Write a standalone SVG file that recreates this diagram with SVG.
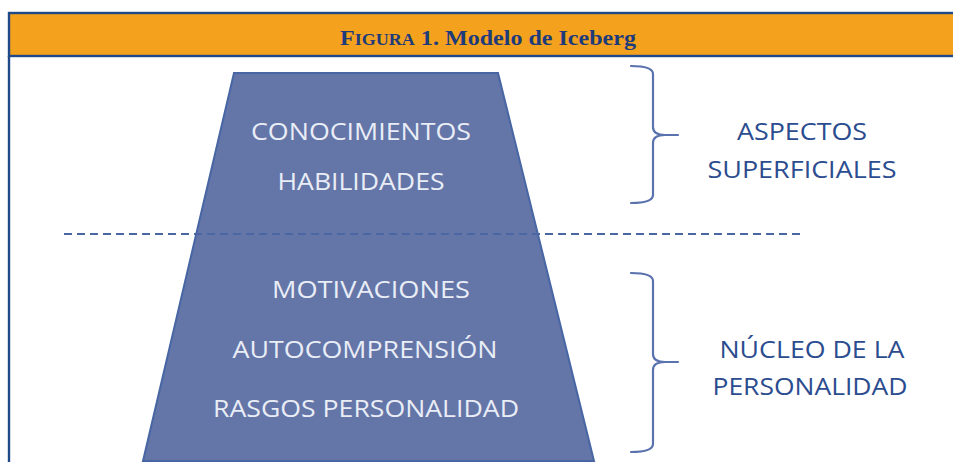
<svg xmlns="http://www.w3.org/2000/svg" width="953" height="462" viewBox="0 0 953 462">
  <style>
    .inner { font-family: "Open Sans", "Liberation Sans", sans-serif; font-size: 23px; fill: #E9EDF6; text-anchor: middle; }
    .side { font-family: "Open Sans", "Liberation Sans", sans-serif; font-size: 23px; fill: #2B4C8F; text-anchor: middle; }
    .brace { fill: none; stroke: #5A72AE; stroke-width: 2.2; stroke-linecap: round; stroke-linejoin: round; }
    .title { font-family: "Liberation Serif", "Times New Roman", serif; font-weight: bold; fill: #1E3B7A; }
  </style>
  <rect x="0" y="0" width="953" height="462" fill="#FFFFFF"/>
  <g id="header">
    <rect x="9" y="13" width="950" height="43" fill="#F4A11E" stroke="#1F4A87" stroke-width="2.4"/>
    <line x1="9" y1="56" x2="9" y2="462" stroke="#1F4A87" stroke-width="2.4"/>
    <text class="title" x="488" y="45" text-anchor="middle" font-size="22" textLength="296" lengthAdjust="spacingAndGlyphs">F<tspan font-size="16.5">IGURA</tspan> 1. Modelo de Iceberg</text>
  </g>
  <g id="iceberg">
    <polygon points="234,73 498,73 594,461 143,461" fill="#6475A8" stroke="#4766A3" stroke-width="2"/>
    <text class="inner" x="361" y="140" textLength="220" lengthAdjust="spacingAndGlyphs">CONOCIMIENTOS</text>
    <text class="inner" x="361" y="190" textLength="167" lengthAdjust="spacingAndGlyphs">HABILIDADES</text>
    <text class="inner" x="371" y="298" textLength="198" lengthAdjust="spacingAndGlyphs">MOTIVACIONES</text>
    <text class="inner" x="365" y="358" textLength="265" lengthAdjust="spacingAndGlyphs">AUTOCOMPRENSIÓN</text>
    <text class="inner" x="366" y="417" textLength="306" lengthAdjust="spacingAndGlyphs">RASGOS PERSONALIDAD</text>
  </g>
  <g id="connectors">
    <line x1="64" y1="234" x2="803" y2="234" stroke="#4A66A3" stroke-width="2" stroke-dasharray="8,5"/>
  </g>
  <g id="brace-superficiales">
    <path class="brace" d="M631,66 Q653,66 653,74 L653,127 Q653,135 665,135 L678,135 M665,135 Q653,135 653,143 L653,195 Q653,203 631,203"/>
    <text class="side" x="802" y="140" textLength="130" lengthAdjust="spacingAndGlyphs">ASPECTOS</text>
    <text class="side" x="802" y="178" textLength="189" lengthAdjust="spacingAndGlyphs">SUPERFICIALES</text>
  </g>
  <g id="brace-nucleo">
    <path class="brace" d="M631,273 Q653,273 653,281 L653,354 Q653,362 665,362 L678,362 M665,362 Q653,362 653,370 L653,444 Q653,452 631,452"/>
    <text class="side" x="812" y="358" textLength="185" lengthAdjust="spacingAndGlyphs">NÚCLEO DE LA</text>
    <text class="side" x="810" y="395" textLength="195" lengthAdjust="spacingAndGlyphs">PERSONALIDAD</text>
  </g>
</svg>
